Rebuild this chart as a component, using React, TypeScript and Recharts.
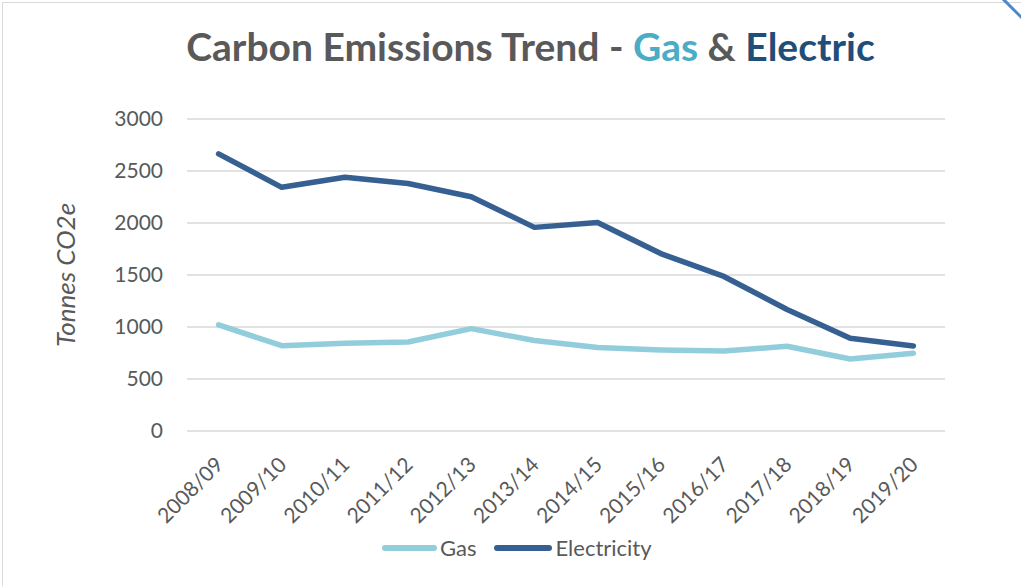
import React from "react";
import { LineChart, Line, XAxis, YAxis, CartesianGrid } from "recharts";

const years = ["2008/09","2009/10","2010/11","2011/12","2012/13","2013/14","2014/15","2015/16","2016/17","2017/18","2018/19","2019/20"];
const gas = [1020, 820, 843, 856, 984, 870, 802, 779, 769, 815, 692, 748];
const electricity = [2665, 2343, 2440, 2380, 2253, 1958, 2005, 1706, 1486, 1168, 892, 818];
const yTicks = [0, 500, 1000, 1500, 2000, 2500, 3000];

const data = years.map((y, i) => ({ year: y, Gas: gas[i], Electricity: electricity[i] }));

const FONT = "Lato, 'Open Sans', sans-serif";
const GAS_C = "#92cddc";
const ELEC_C = "#366092";
const TEXT_C = "#595959";

const XTick = (props: any) => {
  const { x, y, payload } = props;
  return (
    <text x={x + 6} y={y + 27} transform={`rotate(-45 ${x + 6} ${y + 27})`} textAnchor="end" fill={TEXT_C} fontSize={21} fontFamily={FONT}>
      {payload.value}
    </text>
  );
};

const YLabel = (props: any) => {
  const { viewBox } = props;
  const cx = viewBox.x + 65;
  const cy = viewBox.y + viewBox.height / 2;
  return (
    <text x={cx} y={cy} transform={`rotate(-90 ${cx} ${cy})`} textAnchor="middle" dominantBaseline="central" fill={TEXT_C} fontSize={26} fontStyle="italic" fontFamily={FONT}>
      Tonnes CO2e
    </text>
  );
};

export default function App() {
  return (
    <div style={{ position: "absolute", left: 0, top: 0, width: 1021, height: 586, overflow: "hidden", background: "#fff" }}>
      <div style={{ position: "absolute", left: 2, top: 2, width: 1200, height: 800, border: "1.5px solid #d9d9d9" }} />
      <svg style={{ position: "absolute", left: 0, top: 0 }} width={1021} height={586}>
        <line x1={1002} y1={-2} x2={1023} y2={19} stroke="#4a86c8" strokeWidth={3} />
      </svg>
      <div style={{ position: "absolute", left: 0, top: 22, width: 1061, textAlign: "center", fontFamily: FONT, fontWeight: 700, fontSize: 39, lineHeight: "48px", color: TEXT_C, whiteSpace: "nowrap" }}>
        Carbon Emissions Trend - <span style={{ color: "#4bacc6" }}>Gas</span> &amp; <span style={{ color: "#1f4e79" }}>Electric</span>
      </div>
      <div style={{ position: "absolute", left: 382, top: 535, display: "flex", alignItems: "center", fontFamily: FONT, fontSize: 22, lineHeight: "26px", color: TEXT_C, whiteSpace: "nowrap" }}>
        <span style={{ display: "inline-block", width: 55, height: 6, borderRadius: 3, background: GAS_C, marginRight: 3 }} />
        <span style={{ marginRight: 18 }}>Gas</span>
        <span style={{ display: "inline-block", width: 58, height: 6, borderRadius: 3, background: ELEC_C, marginRight: 3 }} />
        <span>Electricity</span>
      </div>
      <div style={{ position: "absolute", left: 0, top: 0 }}>
        <LineChart width={1021} height={586} data={data} margin={{ top: 119, right: 76, bottom: 55, left: 0 }}>
          <CartesianGrid horizontal vertical={false} stroke="#d9d9d9" strokeWidth={1.5} />
          <XAxis dataKey="year" padding={{ left: 31.6, right: 31.6 }} axisLine={false} tickLine={false} tick={<XTick />} interval={0} height={100} />
          <YAxis domain={[0, 3000]} ticks={yTicks} axisLine={false} tickLine={false} tickSize={0} tickMargin={24} width={187} tick={{ fill: TEXT_C, fontSize: 21, fontFamily: FONT }} label={<YLabel />} />
          <Line type="linear" dataKey="Gas" stroke={GAS_C} strokeWidth={5.5} dot={false} isAnimationActive={false} strokeLinecap="round" strokeLinejoin="round" />
          <Line type="linear" dataKey="Electricity" stroke={ELEC_C} strokeWidth={5.5} dot={false} isAnimationActive={false} strokeLinecap="round" strokeLinejoin="round" />
        </LineChart>
      </div>
    </div>
  );
}
